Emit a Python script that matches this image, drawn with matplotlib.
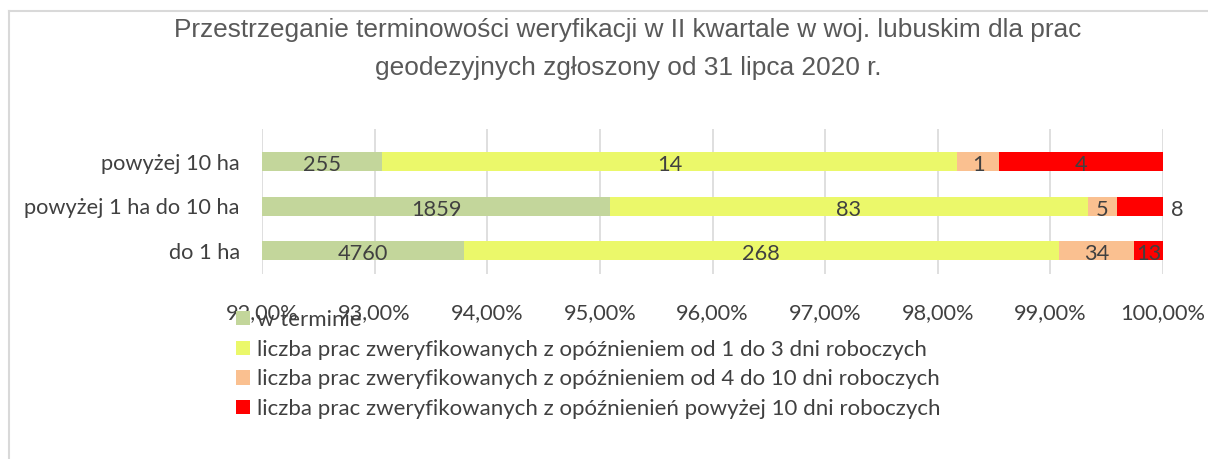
import numpy as np
import matplotlib
matplotlib.use('Agg')
from matplotlib import pyplot as plt
from matplotlib.lines import Line2D

plt.rcParams['font.family'] = ['Lato', 'DejaVu Sans']

# dane
categories = ['do 1 ha', 'powyżej 1 ha do 10 ha', 'powyżej 10 ha']
series_names = ['w terminie',
                'liczba prac zweryfikowanych z opóźnieniem od 1 do 3 dni roboczych',
                'liczba prac zweryfikowanych z opóźnieniem od 4 do 10 dni roboczych',
                'liczba prac zweryfikowanych z opóźnienień powyżej 10 dni roboczych']
w_terminie = [4760, 1859, 255]
opoz_1_3 = [268, 83, 14]
opoz_4_10 = [34, 5, 1]
opoz_10 = [13, 8, 4]
colors = ['#c3d69b', '#ebf86a', '#fac090', '#ff0000']
xticks = [0.92, 0.93, 0.94, 0.95, 0.96, 0.97, 0.98, 0.99, 1.00]
xmin = 0.92

values = np.array([w_terminie, opoz_1_3, opoz_4_10, opoz_10], dtype=float)
shares = values / values.sum(axis=0)

fig = plt.figure(figsize=(12.08, 4.59), dpi=100)
ax = fig.add_axes([262 / 1208, 1 - 274 / 459, (1163 - 262) / 1208, 145 / 459])

fs = 15.7
txt = '#404040'
y = np.arange(len(categories))
left = np.zeros(len(categories))
handles = []
for i in range(len(series_names)):
    b = ax.barh(y, shares[i], left=left, height=0.43, color=colors[i], zorder=2, label=series_names[i])
    handles.append(b)
    for j in range(len(categories)):
        a = max(left[j], xmin)
        e = left[j] + shares[i][j]
        # etykieta "8" Excel wyrzucil za koniec paska
        if i == 3 and j == 1:
            ax.text(e + 0.0007, y[j] - 0.08, f'{int(values[i][j])}', ha='left', va='center',
                    fontsize=fs, color=txt, clip_on=False)
        else:
            ax.text((a + e) / 2, y[j] - 0.08, f'{int(values[i][j])}', ha='center', va='center',
                    fontsize=fs, color=txt, clip_on=False)
    left = left + shares[i]

ax.set_xlim(xmin, 1.0)
ax.set_ylim(-0.52, 2.74)
ax.set_xticks(xticks)
ax.set_xticklabels([f'{t * 100:.2f}%'.replace('.', ',') for t in xticks], fontsize=fs, color=txt)
ax.set_yticks(y)
ax.set_yticklabels(categories, fontsize=fs, color=txt)
ax.tick_params(axis='both', length=0)
ax.tick_params(axis='y', pad=16)
ax.tick_params(axis='x', pad=21)
ax.grid(axis='x', color='#d9d9d9', linewidth=1.2, zorder=0)
for s in ax.spines.values():
    s.set_visible(False)

tx = 628 / 1208
fig.text(tx, 1 - 30 / 459, 'Przestrzeganie terminowości weryfikacji w II kwartale w woj. lubuskim dla prac',
         ha='center', va='center', fontsize=18.9, color='#595959',
         fontfamily=['Liberation Sans', 'DejaVu Sans'])
fig.text(tx, 1 - 68 / 459, 'geodezyjnych zgłoszony od 31 lipca 2020 r.',
         ha='center', va='center', fontsize=18.9, color='#595959',
         fontfamily=['Liberation Sans', 'DejaVu Sans'])

leg = fig.legend(handles=handles, labels=series_names, loc='upper left',
                 bbox_to_anchor=(225 / 1208, 1 - 299 / 459), frameon=False,
                 fontsize=16, labelcolor=txt, handlelength=0.62, handleheight=0.62,
                 handletextpad=0.33, labelspacing=0.43, borderpad=0)

# ramka wykresu
fig.add_artist(Line2D([8.5 / 1208, 1], [1 - 10.5 / 459, 1 - 10.5 / 459], color='#d9d9d9', lw=1.5,
                      transform=fig.transFigure))
fig.add_artist(Line2D([8.5 / 1208, 8.5 / 1208], [0, 1 - 10.5 / 459], color='#d9d9d9', lw=1.5,
                      transform=fig.transFigure))

fig.savefig('out.png', dpi=100)
